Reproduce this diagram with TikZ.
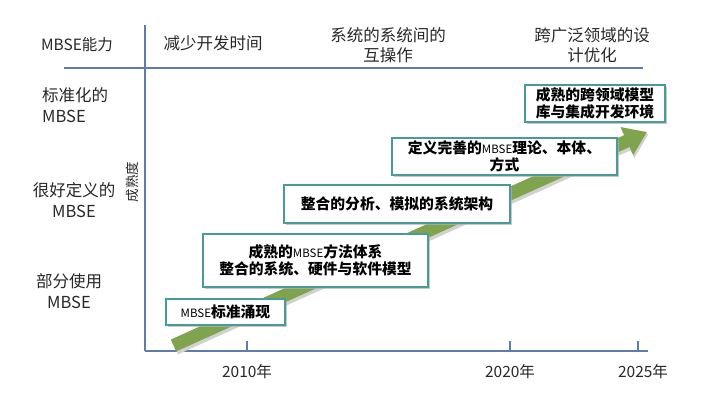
\documentclass[tikz,border=0pt]{standalone}
\usepackage{fontspec}
\setmainfont{Noto Sans CJK SC}
\usetikzlibrary{arrows.meta,shadows}
\definecolor{axisblue}{RGB}{92,124,172}
\definecolor{boxteal}{RGB}{72,156,152}
\definecolor{bandgreen}{RGB}{128,163,78}
\definecolor{txt}{RGB}{40,40,40}
\newcommand{\mbs}{{\mdseries\fontsize{11.5}{12}\selectfont MBSE}}
\tikzset{
  axisline/.style={draw=axisblue, line width=1.8pt},
  hdr/.style={text=txt, font=\fontsize{16.5}{20}\selectfont, align=center, inner sep=0pt},
  lvl/.style={text=txt, font=\fontsize{16.5}{20.5}\selectfont, inner sep=0pt},
  yr/.style={text=txt, font=\fontsize{15.5}{18}\selectfont, inner sep=0pt},
  stagebox/.style={draw=boxteal, line width=1.6pt, fill=white, align=center,
    inner sep=0pt, text=black, font=\bfseries\fontsize{14.8}{17.5}\selectfont,
    drop shadow={shadow xshift=1.6pt, shadow yshift=-1.6pt, fill=black!30, opacity=0.7}},
}
\begin{document}
\begin{tikzpicture}[x=1pt,y=-1pt]
\useasboundingbox[fill=white] (0,0) rectangle (704,411);
% axes
\coordinate (vtop) at (145,25);
\coordinate (orig) at (145,351);
\coordinate (hl) at (64,68);
\coordinate (hr) at (643,68);
\coordinate (xend) at (648,351);
\draw[axisline] (vtop) -- (orig);
\draw[axisline] (hl) -- (hr);
\draw[axisline] (orig) -- (xend);
\foreach \x/\n in {247/a,510/b,638/c}{
  \coordinate (t\n) at (\x,351);
  \coordinate (u\n) at (\x,341);
  \draw[axisline] (t\n) -- (u\n);
}
% green band arrow
\coordinate (bs) at (173.5,345.5);
\coordinate (be) at (647,132);
\coordinate (bs2) at (175,347.5);
\coordinate (be2) at (648.5,134);
\draw[line width=15pt, black!18, -{Triangle[length=23pt,width=31pt]}] (bs2) -- (be2);
\draw[line width=13pt, bandgreen, -{Triangle[length=22pt,width=29pt]}] (bs) -- (be);
% headers
\node[hdr, font=\fontsize{15.5}{20}\selectfont] (h0) at (77,45) {MBSE能力};
\node[hdr] (h1) at (213,43) {减少开发时间};
\node[hdr] (h2) at (388,45) {系统的系统间的\\互操作};
\node[hdr] (h3) at (592,45) {跨广泛领域的设\\计优化};
% level labels
\node[lvl, align=left, anchor=west] (l1) at (42,105) {标准化的\\MBSE};
\node[lvl, align=center] (l2) at (74,200) {很好定义的\\MBSE};
\node[lvl, align=center] (l3) at (69,291) {部分使用\\MBSE};
\node[text=txt, font=\fontsize{13.5}{14}\selectfont, rotate=90, inner sep=0pt] (md) at (132,182) {成熟度};
% years
\node[yr] (y1) at (247,372) {2010年};
\node[yr] (y2) at (510,372) {2020年};
\node[yr] (y3) at (643,372) {2025年};
% stage boxes
\node[stagebox, minimum width=119pt, minimum height=26pt] (s1) at (225.5,312) {\mbs 标准涌现};
\node[stagebox, minimum width=225pt, minimum height=53pt] (s2) at (315.5,260.5) {成熟的\mbs 方法体系\\整合的系统、硬件与软件模型};
\node[stagebox, minimum width=226pt, minimum height=38pt] (s3) at (397,204) {整合的分析、模拟的系统架构};
\node[stagebox, minimum width=225pt, minimum height=37pt] (s4) at (504.5,156.5) {定义完善的\mbs 理论、本体、\\方式};
\node[stagebox, minimum width=140pt, minimum height=37pt] (s5) at (595,103.5) {成熟的跨领域模型\\库与集成开发环境};
\end{tikzpicture}
\end{document}
